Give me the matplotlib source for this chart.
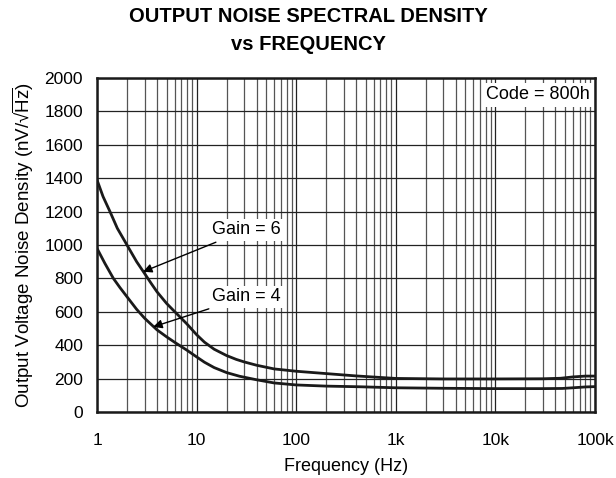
import matplotlib
matplotlib.use("Agg")
import matplotlib.pyplot as plt
import numpy as np

plt.rcParams['font.family'] = ['Liberation Sans', 'DejaVu Sans']
plt.rcParams['mathtext.fontset'] = 'custom'
plt.rcParams['mathtext.rm'] = 'Liberation Sans'
plt.rcParams['mathtext.it'] = 'Liberation Sans:italic'

freq_g6 = [1, 1.15, 1.35, 1.6, 2, 2.5, 3, 3.5, 4, 5, 6, 7, 8, 10, 12, 15, 20, 25, 30, 40,
           60, 100, 200, 400, 1000, 3000, 10000, 30000, 45000, 60000, 80000, 100000]
noise_g6 = [1390, 1290, 1200, 1100, 1000, 900, 830, 770, 720, 650, 602, 562, 527, 463, 418,
            376, 338, 315, 300, 280, 258, 244, 230, 216, 201, 198, 198, 199, 202, 210, 215, 215]

freq_g4 = [1, 1.2, 1.46, 1.7, 2, 2.5, 3, 4, 5, 6, 8, 10, 12, 15, 20, 27, 40, 60,
           100, 200, 440, 1000, 3000, 10000, 30000, 47000, 60000, 80000, 100000]
noise_g4 = [980, 890, 800, 745, 690, 615, 562, 492, 450, 418, 370, 330, 298, 266, 236, 214,
            193, 174, 162, 155, 151, 145, 142, 140, 140, 141, 145, 150, 152]

x_ticks = [1, 10, 100, 1000, 10000, 100000]
x_labels = ['1', '10', '100', '1k', '10k', '100k']
y_ticks = list(range(0, 2001, 200))

fig = plt.figure(figsize=(6.16, 4.78), dpi=100)
ax = fig.add_axes([97/616, 1-412/478, (595-97)/616, (412-78)/478])

ax.set_xscale('log')
ax.set_xlim(1, 100000)
ax.set_ylim(0, 2000)

# grid
minor = [m * 10**d for d in range(0, 5) for m in range(2, 10)]
for v in minor:
    ax.axvline(v, color='#555555', lw=0.9, zorder=1)
for v in x_ticks:
    ax.axvline(v, color='#222222', lw=0.9, zorder=1)
for v in y_ticks:
    ax.axhline(v, color='#222222', lw=0.9, zorder=1)

ax.plot(freq_g6, noise_g6, color='#1a1a1a', lw=2.0, zorder=3, solid_joinstyle='round')
ax.plot(freq_g4, noise_g4, color='#1a1a1a', lw=2.0, zorder=3, solid_joinstyle='round')

ax.set_xticks(x_ticks)
ax.set_xticklabels(x_labels)
ax.set_xticks([], minor=True)
ax.set_yticks(y_ticks)
ax.tick_params(axis='both', length=0, labelsize=12.5, colors='black')
ax.tick_params(axis='x', pad=15)
ax.tick_params(axis='y', pad=10)

for s in ax.spines.values():
    s.set_linewidth(1.8)
    s.set_color('#1a1a1a')

ax.set_xlabel('Frequency (Hz)', fontsize=13, labelpad=7)
ax.set_ylabel(r'Output Voltage Noise Density (nV/√$\overline{\mathrm{Hz}}$)', fontsize=13.5, labelpad=6)

fig.text(0.5, 1-17/478, 'OUTPUT NOISE SPECTRAL DENSITY', ha='center', va='center',
         fontsize=14.5, fontweight='bold')
fig.text(0.5, 1-44/478, 'vs FREQUENCY', ha='center', va='center',
         fontsize=14.5, fontweight='bold')

bbox = dict(boxstyle='square,pad=0.15', fc='white', ec='none')
ax.annotate('Gain = 6', xy=(2.9, 840), xytext=(14.2, 1090), fontsize=13,
            ha='left', va='center', bbox=bbox, zorder=4,
            arrowprops=dict(arrowstyle='-|>', color='black', lw=1.0,
                            shrinkA=2, shrinkB=0, mutation_scale=13))
ax.annotate('Gain = 4', xy=(3.67, 510), xytext=(14.2, 690), fontsize=13,
            ha='left', va='center', bbox=bbox, zorder=4,
            arrowprops=dict(arrowstyle='-|>', color='black', lw=1.0,
                            shrinkA=2, shrinkB=0, mutation_scale=13))

ax.text(0.99, 0.95, 'Code = 800h', transform=ax.transAxes, ha='right', va='center',
        fontsize=13, bbox=dict(boxstyle='square,pad=0.2', fc='white', ec='none'), zorder=4)

fig.savefig('out.png', dpi=100)
